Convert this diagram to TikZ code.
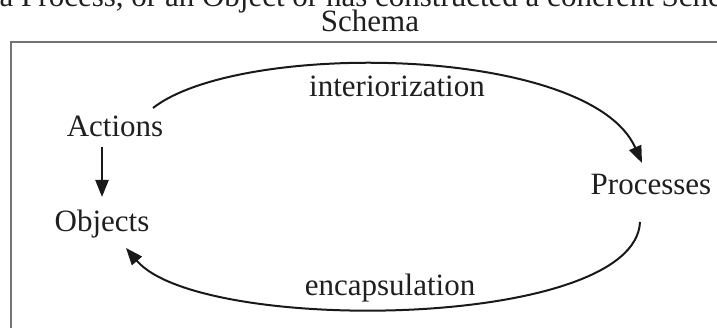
\documentclass[tikz,border=0pt]{standalone}
\usepackage{fontspec}
\setmainfont{Liberation Serif}
\usetikzlibrary{arrows.meta}
\begin{document}
\begin{tikzpicture}[x=1pt,y=-1pt,
  lbl/.style={anchor=base,inner sep=0pt,font=\fontsize{31}{36}\selectfont,text=black!88},
  conn/.style={line width=2pt,draw=black!90,-{Triangle[width=13pt,length=17pt]}}]
\useasboundingbox (0,0) rectangle (717,328);
\clip (0,0) rectangle (717,328);
\draw[draw=black!55,line width=1.6pt] (11,42) rectangle (740,360);
\node[lbl,anchor=base east] (top) at (760,7) {a Process, or an Object or has constructed a coherent Schema};
\node[lbl] (schema) at (370,32) {Schema};
\node[lbl] (actions) at (115,137) {Actions};
\node[lbl] (objects) at (102,232) {Objects};
\node[lbl] (processes) at (651,195) {Processes};
\node[lbl] (int) at (397,97) {interiorization};
\node[lbl] (enc) at (390,296) {encapsulation};
\coordinate (a1) at (153,108);
\coordinate (p1) at (642,163);
\coordinate (p2) at (640,222);
\coordinate (o1) at (126,248);
\coordinate (av) at (102,147);
\coordinate (ov) at (102,197);
\draw[conn] (a1) .. controls (240,40) and (590,45) .. (p1);
\draw[conn] (p2) .. controls (635,330) and (200,335) .. (o1);
\draw[conn,line width=2.4pt] (av) -- (ov);
\end{tikzpicture}
\end{document}
